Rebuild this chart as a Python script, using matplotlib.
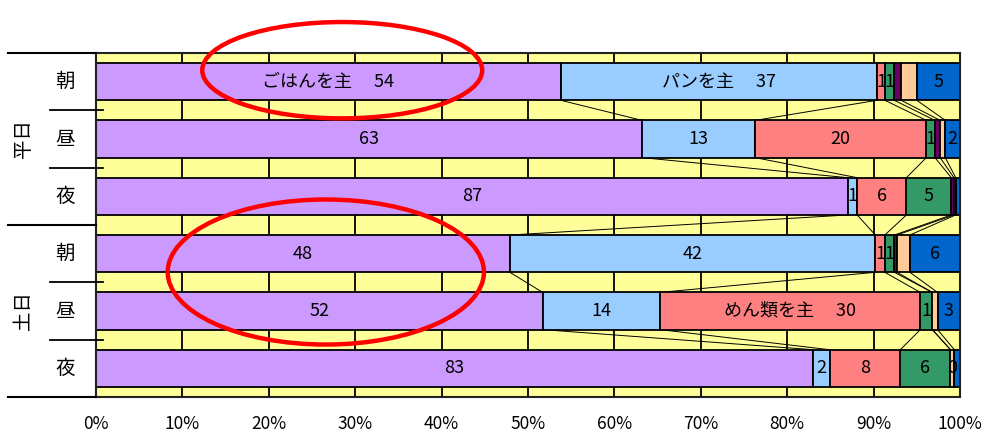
import numpy as np
import matplotlib
matplotlib.use("Agg")
import matplotlib.pyplot as plt
import matplotlib.transforms as mtransforms
from matplotlib.patches import Ellipse

plt.rcParams["font.family"] = ["Noto Sans CJK JP", "DejaVu Sans"]

# rows: weekday morning/noon/night, weekend morning/noon/night
groups = ["平日", "土日"]
meals = ["朝", "昼", "夜"]

rice = [53.8, 63.2, 87.0, 47.9, 51.7, 83.0]
bread = [36.6, 13.1, 1.1, 42.3, 13.6, 1.9]
noodle = [0.9, 19.8, 5.7, 1.1, 30.1, 8.2]
side = [1.1, 1.0, 5.2, 1.1, 1.4, 5.8]
snack = [0.8, 0.6, 0.3, 0.3, 0.0, 0.0]
skip = [1.8, 0.6, 0.2, 1.5, 0.6, 0.45]
other = [5.0, 1.7, 0.5, 5.8, 2.6, 0.65]

series = [rice, bread, noodle, side, snack, skip, other]
series_names = ["ごはんを主", "パンを主", "めん類を主", "", "", "", ""]
name_rows = [0, 0, 4, None, None, None, None]
show_label = [
    [1, 1, 1, 1, 1, 1],
    [1, 1, 1, 1, 1, 1],
    [1, 1, 1, 1, 1, 1],
    [1, 1, 1, 1, 1, 1],
    [0, 0, 0, 0, 0, 0],
    [0, 0, 0, 0, 0, 1],
    [1, 1, 0, 1, 1, 0],
]
colors = ["#CC99FF", "#99CCFF", "#FF8080", "#339966", "#660066", "#FFCC99", "#0066CC"]

fig = plt.figure(figsize=(9.87, 4.37), dpi=100)
ax = fig.add_axes([96 / 987, 1 - 397 / 437, 864 / 987, 344 / 437])
ax.set_facecolor("#FFFF99")

n_rows = len(rice)
y = np.arange(n_rows)
h = 0.65
data = np.array(series)
cum = np.cumsum(data, axis=0)
left = cum - data

for k, vals in enumerate(series):
    ax.barh(y, vals, left=left[k], height=h, color=colors[k],
            edgecolor="black", linewidth=1.3, zorder=2)
    for i, v in enumerate(vals):
        if not show_label[k][i]:
            continue
        txt = f"{v:.0f}"
        if name_rows[k] == i:
            txt = f"{series_names[k]}\u3000 {txt}"
        ax.text(left[k][i] + v / 2, i, txt, ha="center", va="center",
                fontsize=13, color="black", zorder=4)

# series lines joining the segment boundaries of neighbouring bars
for i in range(n_rows - 1):
    for k in range(len(series) - 1):
        ax.plot([cum[k][i], cum[k][i + 1]], [i + h / 2, i + 1 - h / 2],
                color="black", linewidth=0.7, zorder=1.5)

ax.set_xlim(0, 100)
ax.set_ylim(n_rows - 0.5, -0.5)
ax.set_xticks(np.arange(0, 101, 10))
ax.set_xticklabels([f"{t}%" for t in range(0, 101, 10)], fontsize=12.5)
ax.tick_params(axis="x", length=0, pad=13)
ax.set_yticks([])
ax.grid(axis="x", color="black", linewidth=1.3, zorder=0.5)
ax.set_axisbelow(True)
for sp in ax.spines.values():
    sp.set_linewidth(1.5)
    sp.set_color("#222222")

# two-level category axis on the left
trans = mtransforms.blended_transform_factory(ax.transAxes, ax.transData)
for g, name in enumerate(groups):
    ax.text(-0.084, g * 3 + 1, name, transform=trans, rotation=90,
            ha="center", va="center", fontsize=14)
    for j, meal in enumerate(meals):
        ax.text(-0.036, g * 3 + j, meal, transform=trans,
                ha="center", va="center", fontsize=14)
    for j in (1, 2):
        yb = g * 3 + j - 0.5
        ax.plot([-0.053, 0.008], [yb, yb], transform=trans, color="black",
                linewidth=1.3, clip_on=False, zorder=5)
for yb in (-0.5, 2.5, 5.5):
    ax.plot([-0.102, 0.0], [yb, yb], transform=trans, color="black",
            linewidth=1.5, clip_on=False, zorder=5)

# highlight rings
ax.add_patch(Ellipse((28.5, -0.2), 32.4, 1.68, fill=False, edgecolor="#FF0000",
                     linewidth=3.2, clip_on=False, zorder=6))
ax.add_patch(Ellipse((26.6, 3.32), 36.6, 2.53, fill=False, edgecolor="#FF0000",
                     linewidth=3.2, clip_on=False, zorder=6))

fig.savefig("out.png", dpi=100)
